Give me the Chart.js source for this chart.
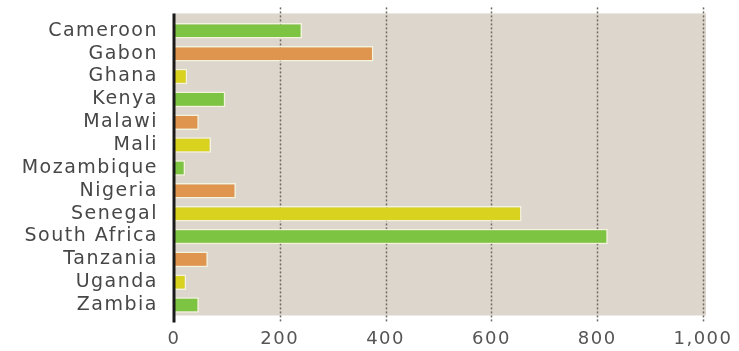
<!DOCTYPE html>
<html>
<head>
<meta charset="utf-8">
<script src="https://cdn.jsdelivr.net/npm/chart.js@4"></script>
<style>
  body { margin: 0; background: #fff; }
  #wrap { width: 739px; height: 351px; }
</style>
</head>
<body>
<div id="wrap"><canvas id="chart" width="739" height="351"></canvas></div>
<script>
const countries = ['Cameroon', 'Gabon', 'Ghana', 'Kenya', 'Malawi', 'Mali', 'Mozambique',
    'Nigeria', 'Senegal', 'South Africa', 'Tanzania', 'Uganda', 'Zambia'];
const values = [242, 377, 25, 97, 47, 70, 21, 117, 657, 820, 64, 23, 47];
const barColors = ['#7cc441', '#e0954f', '#d9d31f', '#7cc441', '#e0954f', '#d9d31f', '#7cc441',
    '#e0954f', '#d9d31f', '#7cc441', '#e0954f', '#d9d31f', '#7cc441'];
const xTicks = [0, 200, 400, 600, 800, 1000];

//==========background, dotted grid, axis line===========
const framePlugin = {
    id: 'frame',
    beforeUpdate(chart) {
        // labels in the picture are set wide
        chart.ctx.letterSpacing = '1.5px';
    },
    beforeDraw(chart) {
        chart.ctx.letterSpacing = '1.5px';
    },
    beforeDatasetsDraw(chart) {
        const ctx = chart.ctx;
        const x = chart.scales.x;
        const area = chart.chartArea;
        ctx.save();
        ctx.fillStyle = '#ddd6cc';
        ctx.fillRect(area.left, area.top - 6, x.getPixelForValue(1000) + 3 - area.left, area.bottom - area.top + 5);
        ctx.strokeStyle = '#6f6a64';
        ctx.lineWidth = 1.5;
        ctx.setLineDash([2, 2]);
        xTicks.slice(1).forEach(function (v) {
            const px = Math.round(x.getPixelForValue(v)) + 0.5;
            ctx.beginPath();
            ctx.moveTo(px, area.top - 12);
            ctx.lineTo(px, area.bottom + 6);
            ctx.stroke();
        });
        ctx.restore();
    },
    afterDatasetsDraw(chart) {
        const ctx = chart.ctx;
        const x = chart.scales.x;
        const area = chart.chartArea;
        ctx.save();
        ctx.strokeStyle = '#1a1a1a';
        ctx.lineWidth = 3;
        const px = x.getPixelForValue(0);
        ctx.beginPath();
        ctx.moveTo(px, area.top - 6);
        ctx.lineTo(px, area.bottom + 6);
        ctx.stroke();
        ctx.restore();
    }
};

new Chart(document.getElementById('chart'), {
    type: 'bar',
    data: {
        labels: countries,
        datasets: [{
            data: values,
            backgroundColor: barColors,
            borderColor: 'rgba(250,250,225,0.8)',
            borderWidth: 1.5,
            borderSkipped: 'start',
            categoryPercentage: 1,
            barPercentage: 0.68
        }]
    },
    options: {
        indexAxis: 'y',
        responsive: false,
        animation: false,
        layout: { padding: { top: 16, right: 36, bottom: 0, left: 0 } },
        plugins: { legend: { display: false }, tooltip: { enabled: false } },
        scales: {
            x: {
                min: 0,
                max: 1000,
                afterFit: function (scale) { scale.height = 34.5; },
                afterBuildTicks: function (scale) {
                    scale.ticks = xTicks.map(function (v) { return { value: v }; });
                },
                grid: { display: false },
                border: { display: false },
                ticks: {
                    padding: 4,
                    color: '#555',
                    font: { family: 'DejaVu Sans', size: 18 },
                    callback: function (v) { return v.toLocaleString('en-US'); }
                }
            },
            y: {
                afterFit: function (scale) { scale.width = 174; },
                grid: { display: false },
                border: { display: false },
                ticks: {
                    autoSkip: false,
                    padding: 8,
                    color: '#474747',
                    font: { family: 'DejaVu Sans', size: 19 }
                }
            }
        }
    },
    plugins: [framePlugin]
});
</script>
</body>
</html>
